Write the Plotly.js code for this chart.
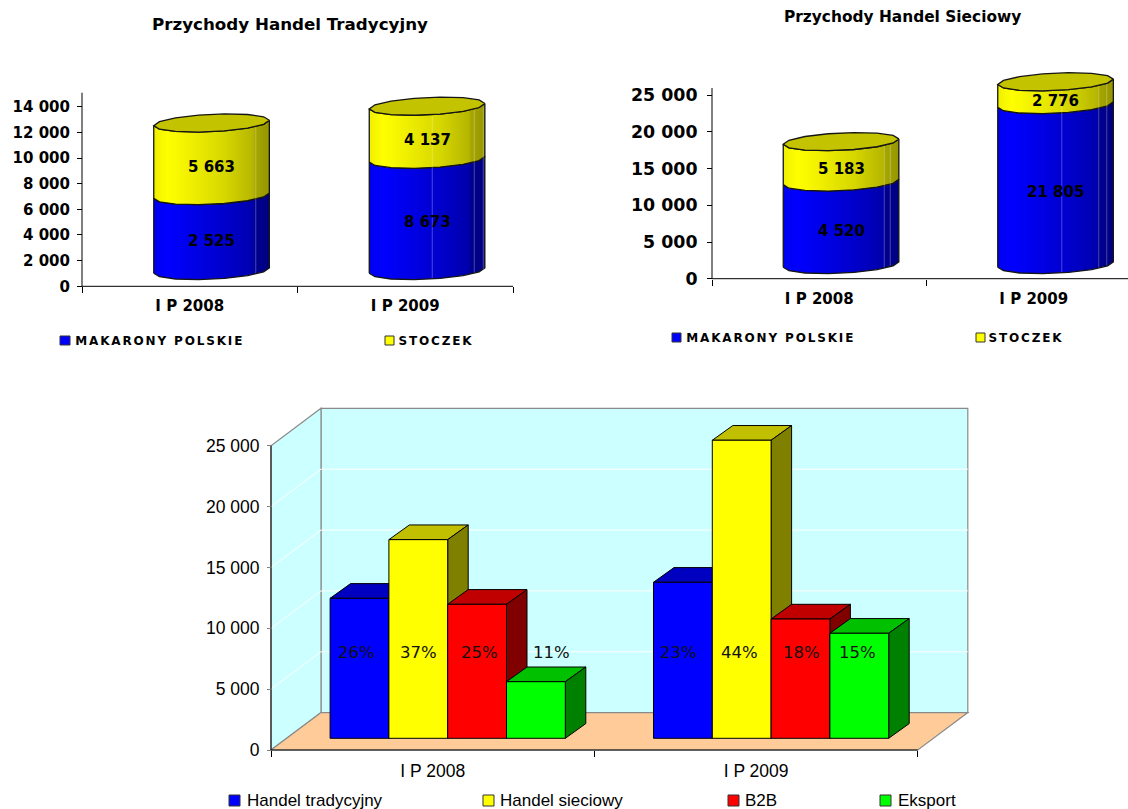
<!DOCTYPE html>
<html><head><meta charset="utf-8">
<script src="https://cdn.plot.ly/plotly-3.0.1.min.js"></script>
<style>html,body{margin:0;padding:0;background:#fff}#c{width:1128px;height:809px}</style>
</head><body><div id="c"></div>
<script>
// ---------- data ----------
const categories = ['I P 2008', 'I P 2009'];

const tradMakarony = [5837, 8673];
const tradStoczek = [5663, 4137];
const tradMakaronyLabels = ['2 525', '8 673'];
const tradStoczekLabels = ['5 663', '4 137'];
const tradTicks = [0, 2000, 4000, 6000, 8000, 10000, 12000, 14000];
const tradTickText = ['0', '2 000', '4 000', '6 000', '8 000', '10 000', '12 000', '14 000'];

const siecMakarony = [11250, 21805];
const siecStoczek = [5500, 3100];
const siecMakaronyLabels = ['4 520', '21 805'];
const siecStoczekLabels = ['5 183', '2 776'];
const siecTicks = [0, 5000, 10000, 15000, 20000, 25000];
const siecTickText = ['0', '5 000', '10 000', '15 000', '20 000', '25 000'];

const channelNames = ['Handel tradycyjny', 'Handel sieciowy', 'B2B', 'Eksport'];
const handelTradycyjny = [11500, 12818];
const handelSieciowy = [16320, 24487];
const b2b = [11010, 9800];
const eksport = [4650, 8628];
const channelValues = [handelTradycyjny, handelSieciowy, b2b, eksport];
const channelPercents = [['26%', '23%'], ['37%', '44%'], ['25%', '18%'], ['11%', '15%']];
const percentNudge = [[-3, -4], [0, -2], [2, 1], [16, -2]];
const channelTicks = [0, 5000, 10000, 15000, 20000, 25000];
const channelTickText = ['0', '5 000', '10 000', '15 000', '20 000', '25 000'];

const channelFront = ['#0000FF', '#FFFF00', '#FF0000', '#00FF00'];
const channelTop = ['#0000C0', '#C0C000', '#C00000', '#00C000'];
const channelSide = ['#000080', '#808000', '#800000', '#008000'];

// faint facet seams on the cylinder walls (pixels from the left edge)
const tradSeams = [[102], [63, 105, 114]];
const siecSeams = [[101, 107], [64, 101, 109]];

// ---------- layout helpers ----------
const W = 1128, H = 809;
const px = x => x / W, py = y => 1 - y / H;
function panel(box, x0, xUnit, y0, yUnit) {
  return {
    x0, xUnit, y0, yUnit,
    dom: { x: [px(box[0]), px(box[2])], y: [py(box[3]), py(box[1])] },
    xr: [(box[0] - x0) / xUnit - .5, (box[2] - x0) / xUnit - .5],
    yr: [(y0 - box[3]) / yUnit, (y0 - box[1]) / yUnit]
  };
}
function xAxis(p, font, standoff) {
  return {
    domain: p.dom.x, range: p.xr, anchor: 'free', position: py(p.y0),
    tickmode: 'array', tickvals: [0, 1], ticktext: categories, ticks: '', showgrid: false, zeroline: false, showline: false,
    tickfont: font, ticklabelstandoff: standoff,
    minor: { tickmode: 'array', tickvals: [-.5, .5, 1.5], ticks: 'outside', ticklen: 6, tickcolor: '#000', tickwidth: 1, showgrid: false }
  };
}
function yAxis(p, vals, text, font, standoff, tickcolor, ticklen) {
  return {
    domain: p.dom.y, range: p.yr, anchor: 'free', position: px(p.x0),
    tickmode: 'array', tickvals: vals, ticktext: text, ticks: 'outside', ticklen: ticklen || 5, tickcolor: tickcolor || '#000', tickwidth: 1,
    showgrid: false, zeroline: false, showline: false, tickfont: font, ticklabelstandoff: standoff
  };
}

const BOLD = 'DejaVu Sans';
const pL = panel([78, 88, 520, 290], 82, 215.5, 286.3, 179.6 / 14000);
const pR = panel([708, 66, 1128, 283], 712, 214.5, 278.7, 183.4 / 25000);
const pB = panel([268, 402, 975, 753], 271, 323.4, 750, 304.3 / 25000);

const traces = [], shapes = [], annotations = [];

// ---------- cylinders ----------
const YELLOW_SCALE = [[0, '#EFEF00'], [.12, '#FFFF00'], [.25, '#F5F500'], [.6, '#D8D800'], [.86, '#B6B600'], [.88, '#A6A600'], [1, '#959500']];
const BLUE_SCALE = [[0, '#0000EE'], [.12, '#0000FF'], [.4, '#0000E2'], [.7, '#0000C2'], [.86, '#0000AC'], [.88, '#000090'], [1, '#000080']];

function cylinders(p, xa, ya, lower, upper, lowerLabels, upperLabels, axisTop, names, seams, basePx) {
  const bw = 57.8, bh = 8.7, tilt = 2.7, STEPS = 7;
  const shiftPx = 21.8;
  const base = basePx / p.yUnit, shift = shiftPx / p.xUnit;
  const arcX = (i, k) => i + shift + bw * Math.cos(k * Math.PI / STEPS) / p.xUnit;
  const arcY = (v, k) => v + (tilt * Math.cos(k * Math.PI / STEPS) - bh * Math.sin(k * Math.PI / STEPS)) / p.yUnit;

  [[lower, '#0000C8', names[0], i => base], [upper, '#C8C800', names[1], i => base + lower[i]]].forEach(s => {
    traces.push({
      type: 'bar', xaxis: xa, yaxis: ya, x: [0, 1], y: s[0], base: [0, 1].map(s[3]), name: s[2],
      width: 90 / p.xUnit, offset: shift - 45 / p.xUnit, marker: { color: s[1] }, hoverinfo: 'skip', showlegend: false
    });
  });
  [0, 1].forEach(i => {
    const segs = [[base, base + lower[i], BLUE_SCALE, lowerLabels[i]], [base + lower[i], base + lower[i] + upper[i], YELLOW_SCALE, upperLabels[i]]];
    segs.forEach(s => {
      const X = [], Y = [];
      for (let k = STEPS; k >= 0; k--) { X.push(arcX(i, k)); Y.push(arcY(s[0], k)); }
      for (let k = 0; k <= STEPS; k++) { X.push(arcX(i, k)); Y.push(arcY(s[1], k)); }
      X.push(X[0]); Y.push(Y[0]);
      traces.push({
        type: 'scatter', mode: 'lines', xaxis: xa, yaxis: ya, x: X, y: Y, fill: 'toself',
        fillgradient: { type: 'horizontal', colorscale: s[2] },
        line: { color: '#151515', width: 1.3 }, hoverinfo: 'skip', showlegend: false
      });
      annotations.push({
        xref: xa, yref: ya, x: i + shift, y: (s[0] + s[1]) / 2, yshift: -7.5, text: s[3], showarrow: false,
        font: { family: BOLD, size: 15, color: '#000', weight: 700 }
      });
    });
    const top = base + lower[i] + upper[i], X = [], Y = [];
    seams[i].forEach(off => {
      const u = (off - bw) / bw, th = Math.acos(u);
      const sx = i + shift + u * bw / p.xUnit;
      const dy = (tilt * u - bh * Math.sin(th)) / p.yUnit;
      traces.push({
        type: 'scatter', mode: 'lines', xaxis: xa, yaxis: ya, x: [sx, sx], y: [base + dy + 1 / p.yUnit, top + dy - 1 / p.yUnit],
        line: { color: 'rgba(255,255,255,0.28)', width: 1 }, hoverinfo: 'skip', showlegend: false
      });
    });
    for (let k = 0; k < 2 * STEPS; k++) { X.push(arcX(i, k)); Y.push(arcY(top, k)); }
    X.push(X[0]); Y.push(Y[0]);
    traces.push({
      type: 'scatter', mode: 'lines', xaxis: xa, yaxis: ya, x: X, y: Y, fill: 'toself', fillcolor: '#C3C300',
      line: { color: '#151515', width: 1.3 }, hoverinfo: 'skip', showlegend: false
    });
  });
  shapes.push({ type: 'line', xref: xa, yref: ya, x0: -.5, x1: -.5, y0: 0, y1: axisTop, line: { color: '#000', width: 1 } });
  shapes.push({ type: 'line', xref: xa, yref: ya, x0: -.5, x1: 1.5, y0: 0, y1: 0, line: { color: '#000', width: 1 } });
}
cylinders(pL, 'x', 'y', tradMakarony, tradStoczek, tradMakaronyLabels, tradStoczekLabels, 15090, ['MAKARONY POLSKIE', 'STOCZEK'], tradSeams, 15.8);
cylinders(pR, 'x2', 'y2', siecMakarony, siecStoczek, siecMakaronyLabels, siecStoczekLabels, 25990, ['MAKARONY POLSKIE', 'STOCZEK'], siecSeams, 14.2);

// ---------- 3D column chart ----------
(function () {
  const p = pB, xa = 'x3', ya = 'y3';
  const wx = 50 / p.xUnit, wy = 37.4 / p.yUnit;     // wall depth
  const dx = 20.5 / p.xUnit, dy = 14.7 / p.yUnit;   // column depth
  const base = 11.7 / p.yUnit, bw = 58.8 / p.xUnit, shift = 15 / p.xUnit;
  const yMax = channelTicks[channelTicks.length - 1];
  const L = -.5, R = 1.5;
  const poly = (pts, fill, lineColor, w) => shapes.push({
    type: 'path', xref: xa, yref: ya, layer: 'below',
    path: 'M' + pts.map(q => q[0] + ',' + q[1]).join('L') + 'Z', fillcolor: fill,
    line: { color: lineColor, width: w }
  });
  const seg = (x0, y0, x1, y1, c, w) => shapes.push({
    type: 'line', xref: xa, yref: ya, layer: 'below', x0, y0, x1, y1, line: { color: c, width: w }
  });
  poly([[L + wx, wy], [R + wx, wy], [R + wx, yMax + wy], [L + wx, yMax + wy]], '#CCFFFF', '#8A8A8A', 1.2);
  poly([[L, 0], [L + wx, wy], [L + wx, yMax + wy], [L, yMax]], '#CCFFFF', '#8A8A8A', 1.2);
  poly([[L, 0], [L + wx, wy], [R + wx, wy], [R, 0]], '#FFCC99', '#8A8A8A', 1.2);
  channelTicks.slice(1, -1).forEach(v => {
    seg(L, v, L + wx, v + wy, '#FFFFFF', 1);
    seg(L + wx, v + wy, R + wx, v + wy, '#FFFFFF', 1);
  });
  seg(L, 0, L, yMax, '#000', 1);
  seg(L, 0, R, 0, '#000', 1);
  channelValues.forEach((vals, s) => {
    const off = shift + (s - 2) * bw;
    traces.push({
      type: 'bar', xaxis: xa, yaxis: ya, x: [0, 1], y: vals, base: [base, base], name: channelNames[s],
      width: bw, offset: off, marker: { color: channelFront[s], line: { color: '#000', width: 1 } }, hoverinfo: 'skip', showlegend: false
    });
  });
  [0, 1].forEach(i => {
    channelValues.forEach((vals, s) => {
      const a = i + shift + (s - 2) * bw, b = a + bw, t = base + vals[i];
      poly([[a, t], [a + dx, t + dy], [b + dx, t + dy], [b, t]], channelTop[s], '#000', 1);
      poly([[b, base], [b + dx, base + dy], [b + dx, t + dy], [b, t]], channelSide[s], '#000', 1);
      annotations.push({
        xref: xa, yref: ya, x: a + bw / 2, y: 8000, xshift: percentNudge[s][i], text: channelPercents[s][i], showarrow: false,
        font: { family: 'DejaVu Sans', size: 16.5, color: '#111' }
      });
    });
  });
})();

// ---------- titles and legends ----------
function label(x, y, text, font, anchor) {
  annotations.push({ xref: 'paper', yref: 'paper', x: px(x), y: py(y), text, showarrow: false, xanchor: anchor || 'center', yanchor: 'middle', font, borderpad: 0 });
}
function swatch(x0, y0, x1, y1, color) {
  shapes.push({ type: 'rect', xref: 'paper', yref: 'paper', x0: px(x0), x1: px(x1), y0: py(y0), y1: py(y1), fillcolor: color, line: { color: '#333', width: 1 } });
}
label(290, 24, 'Przychody Handel Tradycyjny', { family: BOLD, size: 16.7, color: '#000', weight: 700 });
label(903, 17, 'Przychody Handel Sieciowy', { family: BOLD, size: 15.4, color: '#000', weight: 700 });

const SPACING = 1.85;
const legendTop = { family: BOLD, size: 12, color: '#000', weight: 700 };
const spaced = (x, y, text) => label(x + text.length * SPACING / 2, y, text, legendTop, 'left');
swatch(60, 336, 70, 345, '#0000FF'); spaced(74, 341, 'MAKARONY POLSKIE');
swatch(385, 336, 394, 345, '#FFFF00'); spaced(398, 341, 'STOCZEK');
swatch(672, 333, 681, 342, '#0000FF'); spaced(685, 338, 'MAKARONY POLSKIE');
swatch(976, 333, 985, 342, '#FFFF00'); spaced(988, 338, 'STOCZEK');

const legendBottom = { family: 'Liberation Sans', size: 17, color: '#000' };
[[229, 246], [483, 499], [728, 744], [880, 897]].forEach((q, s) => {
  swatch(q[0], 795, q[0] + 11, 806, channelFront[s]);
  label(q[1], 800, channelNames[s], legendBottom, 'left');
});

const layout = {
  width: W, height: H, margin: { l: 0, r: 0, t: 0, b: 0 }, paper_bgcolor: '#fff', plot_bgcolor: 'rgba(0,0,0,0)',
  barmode: 'overlay', showlegend: false, shapes, annotations,
  xaxis: xAxis(pL, { family: BOLD, size: 15, color: '#000', weight: 700 }, 9),
  yaxis: yAxis(pL, tradTicks, tradTickText, { family: BOLD, size: 15, color: '#000', weight: 700 }, 4),
  xaxis2: xAxis(pR, { family: BOLD, size: 15, color: '#000', weight: 700 }, 9),
  yaxis2: yAxis(pR, siecTicks, siecTickText, { family: BOLD, size: 17.4, color: '#000', weight: 700 }, 6),
  xaxis3: xAxis(pB, { family: 'Liberation Sans', size: 17.5, color: '#000' }, 8),
  yaxis3: yAxis(pB, channelTicks, channelTickText, { family: 'Liberation Sans', size: 17.5, color: '#000' }, 4, '#808080', 4)
};
Plotly.newPlot('c', traces, layout, { displayModeBar: false, responsive: false }).then(() => {
  document.querySelectorAll('.annotation-text').forEach(t => {
    if (/^(MAKARONY POLSKIE|STOCZEK)$/.test(t.textContent)) t.style.letterSpacing = SPACING + 'px';
  });
});
</script></body></html>
